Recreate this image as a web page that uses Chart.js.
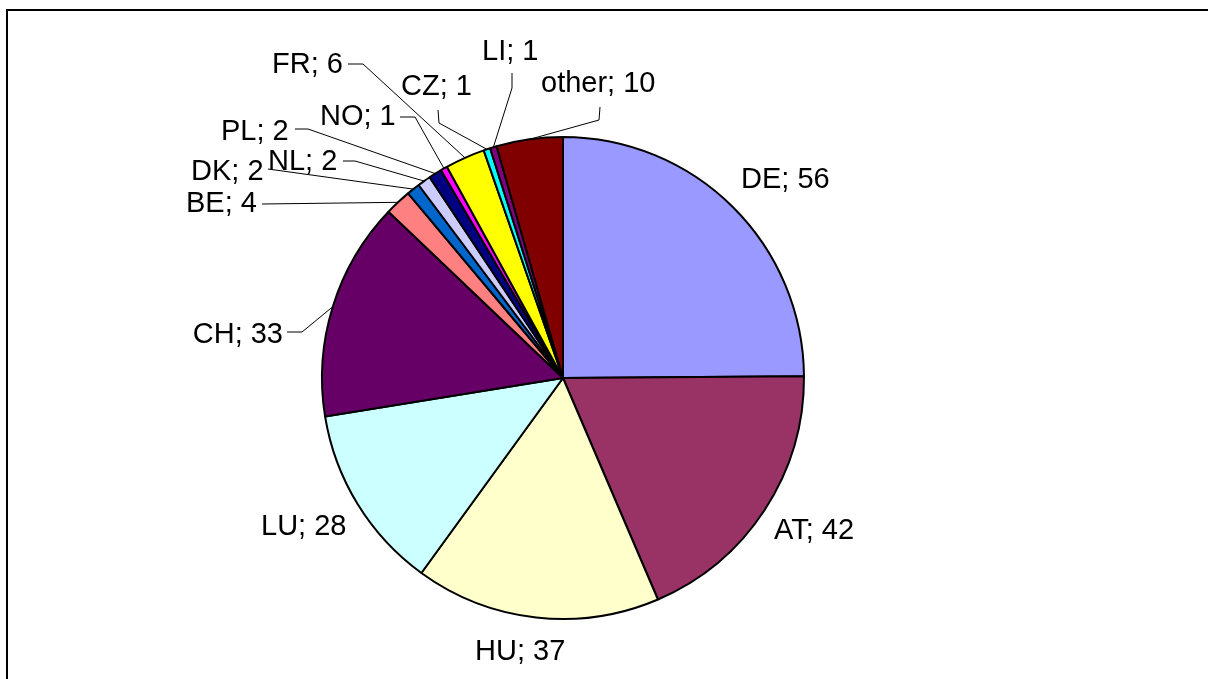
<!DOCTYPE html>
<html>
<head>
<meta charset="utf-8">
<script src="https://cdn.jsdelivr.net/npm/chart.js@4.4.1/dist/chart.umd.min.js"></script>
<style>
  html, body { margin:0; padding:0; background:#fff; overflow:hidden; }
  #wrap { position:relative; width:1208px; height:679px; }
  #frame { position:absolute; left:6px; top:9px; width:1400px; height:900px; border:2px solid #000; box-sizing:border-box; }
  canvas { position:absolute; left:0; top:0; }
</style>
</head>
<body>
<div id="wrap">
  <div id="frame"></div>
  <canvas id="c" width="1208" height="679"></canvas>
</div>
<script>
const categories = ['DE','AT','HU','LU','CH','BE','DK','NL','PL','NO','FR','CZ','LI','other'];
const values = [56, 42, 37, 28, 33, 4, 2, 2, 2, 1, 6, 1, 1, 10];
const colors = ['#9999FF','#993366','#FFFFCC','#CCFFFF','#660066','#FF8080','#0066CC',
                '#CCCCFF','#000080','#FF00FF','#FFFF00','#00FFFF','#800080','#800000'];

// label placement, offsets from pie centre (text anchor, optional leader points)
const labelLayout = {
  DE:    { at:[178,-190], align:'left' },
  AT:    { at:[211,161],  align:'left' },
  HU:    { at:[-88,282],  align:'left' },
  LU:    { at:[-302,157], align:'left' },
  CH:    { at:[-280,-35], align:'right', leader:[[-276,-46],[-261,-46]] },
  BE:    { at:[-377,-166], align:'left', leader:[[-301,-174]] },
  DK:    { at:[-372,-198], align:'left', leader:[[-295,-209]] },
  NL:    { at:[-295,-208], align:'left', leader:[[-220,-217],[-208,-217]] },
  PL:    { at:[-342,-238], align:'left', leader:[[-268,-249],[-255,-249]] },
  NO:    { at:[-243,-253], align:'left', leader:[[-163,-261],[-148,-261]] },
  FR:    { at:[-291,-305], align:'left', leader:[[-215,-314],[-200,-314]] },
  CZ:    { at:[-162,-283], align:'left', leader:[[-125,-268],[-124,-255]] },
  LI:    { at:[-81,-318],  align:'left', leader:[[-51,-305],[-51,-290]] },
  other: { at:[-22,-286],  align:'left', leader:[[37,-271],[36,-258]] }
};

const labelPlugin = {
  id: 'pieLabels',
  afterDatasetsDraw(chart) {
    const ctx = chart.ctx;
    const meta = chart.getDatasetMeta(0);
    ctx.save();
    meta.data.forEach((arc, i) => {
      const p = arc.getProps(['x','y','startAngle','endAngle','outerRadius'], true);
      const cat = categories[i];
      const lay = labelLayout[cat];
      if (!lay) return;
      const cx = p.x, cy = p.y;
      if (lay.leader) {
        const mid = (p.startAngle + p.endAngle) / 2;
        const ex = cx + Math.cos(mid) * p.outerRadius;
        const ey = cy + Math.sin(mid) * p.outerRadius;
        ctx.beginPath();
        ctx.strokeStyle = '#000';
        ctx.lineWidth = 1;
        lay.leader.forEach((pt, k) => {
          if (k === 0) ctx.moveTo(cx + pt[0], cy + pt[1]);
          else ctx.lineTo(cx + pt[0], cy + pt[1]);
        });
        ctx.lineTo(ex, ey);
        ctx.stroke();
      }
      ctx.fillStyle = '#000';
      ctx.font = '29px "Liberation Sans", Arial, sans-serif';
      ctx.textAlign = lay.align;
      ctx.textBaseline = 'alphabetic';
      ctx.fillText(cat + '; ' + values[i], cx + lay.at[0], cy + lay.at[1]);
    });
    ctx.restore();
  }
};

new Chart(document.getElementById('c'), {
  type: 'pie',
  data: {
    labels: categories,
    datasets: [{
      data: values,
      backgroundColor: colors,
      borderColor: '#000',
      borderWidth: 2
    }]
  },
  options: {
    responsive: false,
    animation: false,
    layout: { padding: { left: 321, top: 136, right: 403, bottom: 59 } },
    plugins: { legend: { display: false }, tooltip: { enabled: false } }
  },
  plugins: [labelPlugin]
});
</script>
</body>
</html>
